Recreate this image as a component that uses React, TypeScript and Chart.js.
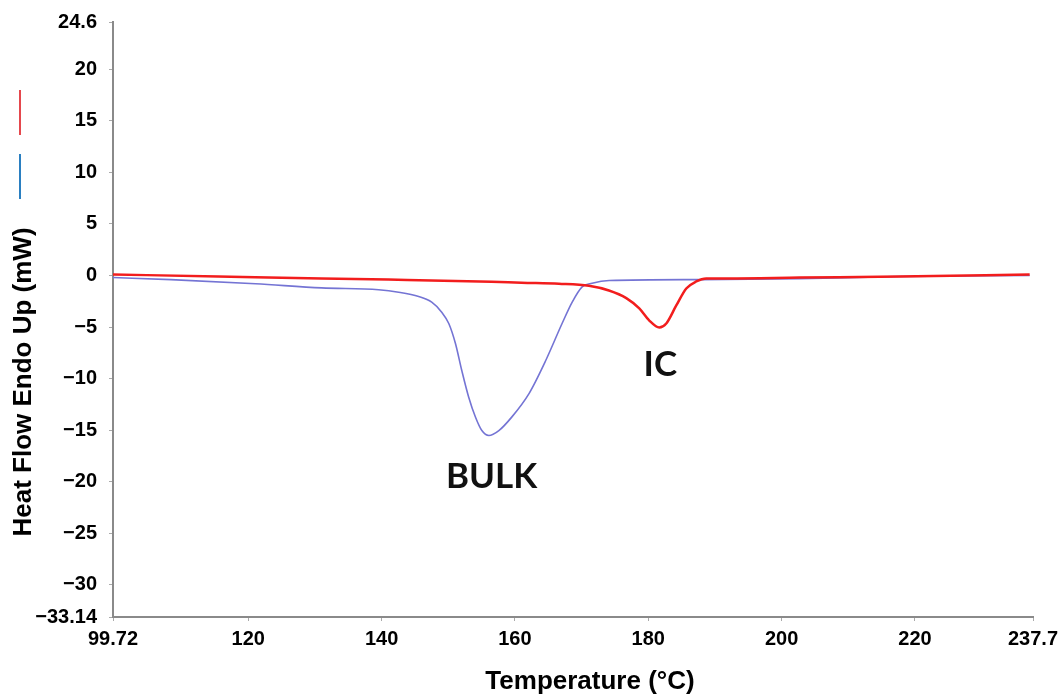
import { useEffect, useRef } from 'react';
import { Chart, registerables } from 'chart.js';

Chart.register(...registerables);

// Tick values and labels
const xTicks = [99.72, 120, 140, 160, 180, 200, 220, 237.7];
const xTickLabels = ['99.72', '120', '140', '160', '180', '200', '220', '237.7'];
const yTicks = [24.6, 20, 15, 10, 5, 0, -5, -10, -15, -20, -25, -30, -33.14];
const yTickLabels = ['24.6', '20', '15', '10', '5', '0', '\u22125', '\u221210', '\u221215', '\u221220', '\u221225', '\u221230', '\u221233.14'];

// IC curve (red)
const icTemps = [99.72, 115.5, 131.0, 141.0, 156.5, 161.0, 166.6, 171.1, 174.1, 176.7, 178.65, 180.15, 181.65, 182.7, 184.2, 185.7, 187.2, 188.7, 192.0, 202.7, 217.7, 237.2];
const icHeatFlow = [0.1, -0.1, -0.3, -0.4, -0.6, -0.7, -0.8, -1.0, -1.46, -2.2, -3.2, -4.37, -5.05, -4.66, -2.91, -1.26, -0.58, -0.29, -0.28, -0.2, -0.1, 0.1];

// BULK curve (blue)
const bulkTemps = [99.72, 108.4, 121.1, 131.0, 139.55, 142.56, 145.56, 147.52, 149.02, 150.08, 151.08, 152.03, 153.08, 154.09, 155.04, 156.09, 157.59, 159.55, 162.11, 164.62, 167.07, 168.57, 170.08, 171.58, 174.14, 187.7, 202.7, 217.7, 237.2];
const bulkHeatFlow = [-0.2, -0.4, -0.8, -1.2, -1.38, -1.62, -2.04, -2.59, -3.56, -4.66, -6.6, -9.22, -11.84, -13.76, -15.05, -15.53, -15.05, -13.72, -11.46, -8.25, -4.66, -2.6, -1.1, -0.75, -0.49, -0.4, -0.3, -0.1, 0.0];

// Text annotations (data coordinates)
const annotationTexts = ['BULK', 'IC'];
const annotationTemps = [156.5, 181.8];
const annotationValues = [-20.6, -9.8];

const legendColors = ['#e5484d', '#2a7fc1'];

const overlayPlugin = {
  id: 'overlay',
  afterDraw(chart: any) {
    const ctx = chart.ctx as CanvasRenderingContext2D;
    const xs = chart.scales.x;
    const ys = chart.scales.y;
    ctx.save();
    // legend marks (vertical)
    ctx.lineWidth = 2;
    ctx.strokeStyle = legendColors[0];
    ctx.beginPath();
    ctx.moveTo(20, 90);
    ctx.lineTo(20, 135);
    ctx.stroke();
    ctx.strokeStyle = legendColors[1];
    ctx.beginPath();
    ctx.moveTo(20, 154);
    ctx.lineTo(20, 199);
    ctx.stroke();

    // axis titles
    ctx.fillStyle = '#000';
    ctx.font = 'bold 26px "Liberation Sans", Arial, sans-serif';
    ctx.textAlign = 'center';
    ctx.textBaseline = 'middle';
    ctx.fillText('Temperature (\u00B0C)', 590, 682);
    ctx.save();
    ctx.translate(24, 382);
    ctx.rotate(-Math.PI / 2);
    ctx.fillText('Heat Flow Endo Up (mW)', 0, 0);
    ctx.restore();

    // annotations
    ctx.font = 'bold 35px Lato, "Open Sans", sans-serif';
    ctx.textBaseline = 'alphabetic';
    ctx.fillStyle = '#111';
    annotationTexts.forEach((t, i) => {
      ctx.fillText(t, xs.getPixelForValue(annotationTemps[i]), ys.getPixelForValue(annotationValues[i]));
    });
    ctx.restore();
  },
};

export default function App() {
  const ref = useRef<HTMLCanvasElement>(null);
  useEffect(() => {
    const tickFont = { family: '"Liberation Sans", Arial, sans-serif', size: 20, weight: 'bold' as const };
    const chart = new Chart(ref.current!, {
      type: 'line',
      data: {
        datasets: [
          {
            label: 'IC',
            data: icTemps.map((t, i) => ({ x: t, y: icHeatFlow[i] })),
            borderColor: '#f21d1d',
            borderWidth: 2.5,
            pointRadius: 0,
            cubicInterpolationMode: 'monotone',
            fill: false,
          },
          {
            label: 'BULK',
            data: bulkTemps.map((t, i) => ({ x: t, y: bulkHeatFlow[i] })),
            borderColor: '#7474d4',
            borderWidth: 1.6,
            pointRadius: 0,
            cubicInterpolationMode: 'monotone',
            fill: false,
          },
        ],
      },
      options: {
        animation: false,
        responsive: true,
        maintainAspectRatio: false,
        layout: { padding: { left: 0, right: 26, top: 22, bottom: 0 } },
        plugins: { legend: { display: false }, tooltip: { enabled: false } },
        scales: {
          x: {
            type: 'linear',
            min: 99.72,
            max: 237.7,
            afterBuildTicks: (s: any) => {
              s.ticks = xTicks.map((v) => ({ value: v }));
            },
            afterFit: (s: any) => {
              s.height = 78;
              s.paddingLeft = 0;
              s.paddingRight = 0;
            },
            ticks: {
              callback: (_v: any, i: number) => xTickLabels[i],
              font: tickFont,
              color: '#000',
              padding: 6,
              maxRotation: 0,
              autoSkip: false,
            },
            grid: { drawOnChartArea: false, tickLength: 4, color: '#aaa' },
            border: { color: '#8a8a8a', width: 2 },
          },
          y: {
            type: 'linear',
            min: -33.14,
            max: 24.6,
            afterBuildTicks: (s: any) => {
              s.ticks = yTicks.map((v) => ({ value: v }));
            },
            afterFit: (s: any) => {
              s.width = 113;
              s.paddingTop = 0;
              s.paddingBottom = 0;
            },
            ticks: {
              callback: (_v: any, i: number) => yTickLabels[i],
              font: tickFont,
              color: '#000',
              padding: 12,
              autoSkip: false,
            },
            grid: { drawOnChartArea: false, tickLength: 4, color: '#aaa' },
            border: { color: '#8a8a8a', width: 2 },
          },
        },
      },
      plugins: [overlayPlugin],
    });
    return () => chart.destroy();
  }, []);
  return (
    <div style={{ position: 'fixed', left: 0, top: 0, width: 1059, height: 695, background: '#fff' }}>
      <canvas ref={ref} />
    </div>
  );
}
